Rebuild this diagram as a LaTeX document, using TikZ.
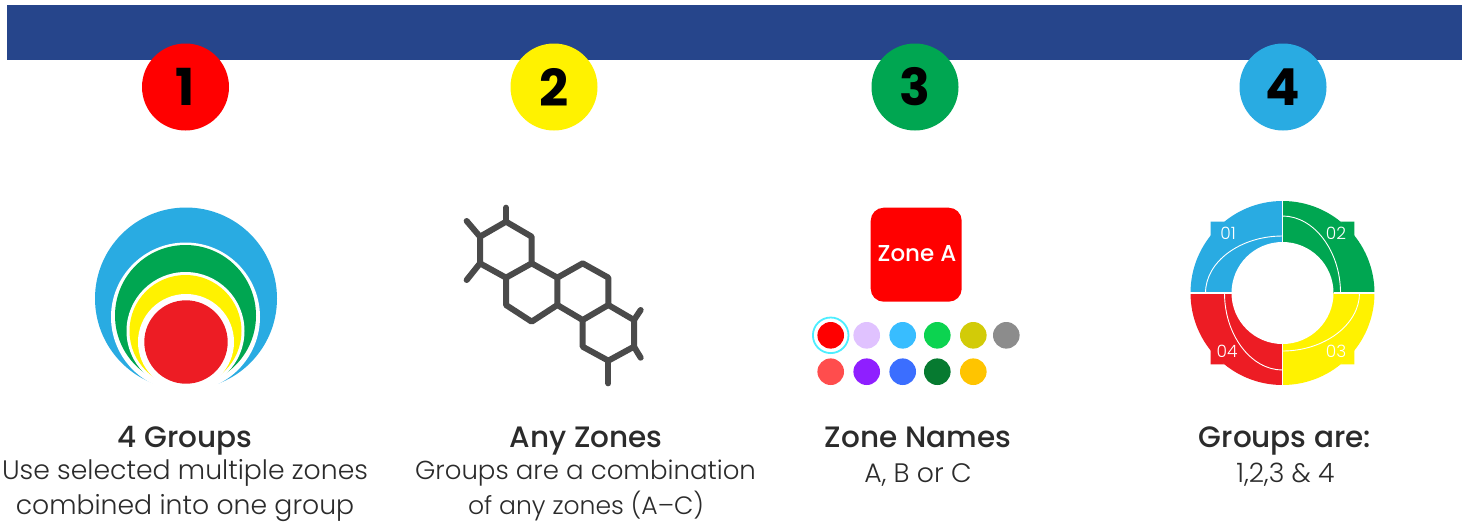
\documentclass[tikz,border=0pt]{standalone}
\usepackage{fontspec}
\setmainfont{Poppins}
\newfontfamily\lightf{Poppins Light}
\newfontfamily\medf{Poppins Medium}
\definecolor{barblue}{HTML}{26458B}
\definecolor{gred}{HTML}{ED1C24}
\definecolor{gyellow}{HTML}{FFF200}
\definecolor{ggreen}{HTML}{00A651}
\definecolor{gblue}{HTML}{29ABE2}
\definecolor{bondgrey}{HTML}{4A4A4A}
\definecolor{inkc}{HTML}{2B2B2B}
\definecolor{ringc}{HTML}{4DEEFF}
\tikzset{
  badge/.style={circle,minimum size=87pt,inner sep=0pt,font=\fontsize{51}{51}\selectfont\bfseries,text=black},
  headtext/.style={font=\fontsize{29.5}{32}\medf,text=inkc,inner sep=0pt,anchor=base},
  bodytext/.style={font=\fontsize{26.7}{30}\lightf,text=inkc,inner sep=0pt,anchor=base},
  bodysmall/.style={font=\fontsize{26}{30}\lightf,text=inkc,inner sep=0pt,anchor=base},
  bodytiny/.style={font=\fontsize{25.1}{30}\lightf,text=inkc,inner sep=0pt,anchor=base},
  bond/.style={draw=bondgrey,line width=6pt,line cap=round,line join=round},
  seglabel/.style={font=\fontsize{17}{17}\lightf,text=white,inner sep=0pt},
  thinarc/.style={draw=white,line width=0.9pt}
}
\begin{document}
\begin{tikzpicture}[x=1pt,y=-1pt]
\useasboundingbox (0,0) rectangle (1469,523);
\fill[white] (0,0) rectangle (1469,523);
\fill[barblue] (7,5) rectangle (1462,60);
\node[badge,fill=red] (b1) at (185.5,87) {1};
\node[badge,fill=gyellow] (b2) at (554,87) {2};
\node[badge,fill=ggreen] (b3) at (915,87) {3};
\node[badge,fill=gblue] (b4) at (1283,87) {4};
% nested circles
\begin{scope}
\clip (80,195) rectangle (290,383.5);
\fill[gblue] (186,298.5) circle (91);
\fill[white] (185.5,317) circle (74.5);
\fill[ggreen] (185.5,315.5) circle (70.5);
\fill[white] (185.5,331) circle (59);
\fill[gyellow] (185.5,331) circle (56);
\fill[white] (186,342) circle (48);
\fill[gred] (186,342) circle (41.7);
\end{scope}
% hexagons
\begin{scope}[shift={(450,195)},x=0.33333pt,y=-0.33333pt]
\draw[bond] (168,80) -- (245,125) -- (245,205) -- (168,248) -- (90,205) -- (90,125) -- cycle;
\draw[bond] (245,205) -- (322,248) -- (322,330) -- (245,380) -- (168,330) -- (168,248);
\draw[bond] (322,248) -- (398,205) -- (475,248) -- (475,330) -- (398,375) -- (322,330);
\draw[bond] (475,330) -- (552,375) -- (552,455) -- (475,497) -- (398,455) -- (398,375);
\draw[bond] (168,80) -- (168,38);
\draw[bond] (90,125) -- (50,78);
\draw[bond] (90,205) -- (50,255);
\draw[bond] (552,375) -- (572,345);
\draw[bond] (552,455) -- (572,488);
\draw[bond] (475,497) -- (475,565);
\end{scope}
% zone tile
\fill[red,rounded corners=13pt] (870.7,207.7) rectangle (961.7,301.7);
\node[font=\fontsize{23}{23}\medf,text=white,inner sep=0pt] (zone) at (917,254) {Zone A};
\draw[ringc,line width=1.8pt] (830.7,335.3) circle (17.8);
\foreach \x/\y/\c in {830.7/335.3/FF0000,866.7/335.3/E0C2FF,902.7/335.3/38BDFF,937.3/335.3/0CD350,973.3/335.3/D2CB08,1006.3/335.3/8C8C8C,830.7/371.7/FF4D4D,866.7/371.7/8F1FFF,902.7/371.7/3B6EFF,937.3/371.7/067A30,973.3/371.7/FFC400}{
  \definecolor{dotc}{HTML}{\c}
  \fill[dotc] (\x,\y) circle (13.3);
}
% ring
\begin{scope}[shift={(1282.5,293)}]
\fill[gblue] (-71.8,-71.3) -- (-58,-71.3) -- (-71.8,-57) -- cycle;
\fill[ggreen] (71.8,-71.3) -- (58,-71.3) -- (71.8,-57) -- cycle;
\fill[gyellow] (71.8,71.3) -- (58,71.3) -- (71.8,57) -- cycle;
\fill[gred] (-71.8,71.3) -- (-58,71.3) -- (-71.8,57) -- cycle;
\begin{scope}\clip (-100,-100) rectangle (0,0); \fill[gblue] (0,0) circle (92); \end{scope}
\begin{scope}\clip (100,-100) rectangle (0,0); \fill[ggreen] (0,0) circle (92); \end{scope}
\begin{scope}\clip (100,100) rectangle (0,0); \fill[gyellow] (0,0) circle (92); \end{scope}
\begin{scope}\clip (-100,100) rectangle (0,0); \fill[gred] (0,0) circle (92); \end{scope}
\fill[white] (0,0) circle (51);
\draw[white,line width=1.6pt] (-102,0) -- (-51,0) (51,0) -- (102,0) (0,-102) -- (0,-51) (0,51) -- (0,102);
\draw[thinarc] (-77,0) .. controls (-77,-31.5) and (-42,-57) .. (0,-57);
\draw[thinarc] (0,-77) .. controls (31.5,-77) and (58,-42) .. (58,0);
\draw[thinarc] (77,0) .. controls (77,31.5) and (42,58) .. (0,58);
\draw[thinarc] (0,77) .. controls (-31.5,77) and (-58,42) .. (-58,0);
\node[seglabel] (s1) at (-54.5,-60) {01};
\node[seglabel] (s2) at (53.5,-60) {02};
\node[seglabel] (s3) at (53.5,58) {03};
\node[seglabel] (s4) at (-55.5,58) {04};
\end{scope}
% captions
\node[headtext] (h1) at (185,447) {4 Groups};
\node[bodytext] (t1a) at (185,479) {Use selected multiple zones};
\node[bodytext] (t1b) at (185,514) {combined into one group};
\node[headtext] (h2) at (586,447) {Any Zones};
\node[bodysmall] (t2a) at (585.5,479) {Groups are a combination};
\node[bodytiny] (t2b) at (586,514) {of any zones (A–C)};
\node[headtext] (h3) at (918,447) {Zone Names};
\node[bodytext] (t3) at (918,482) {A, B or C};
\node[headtext] (h4) at (1285,447) {Groups are:};
\node[bodytext] (t4) at (1285.5,482) {1,2,3 \& 4};
\end{tikzpicture}
\end{document}
